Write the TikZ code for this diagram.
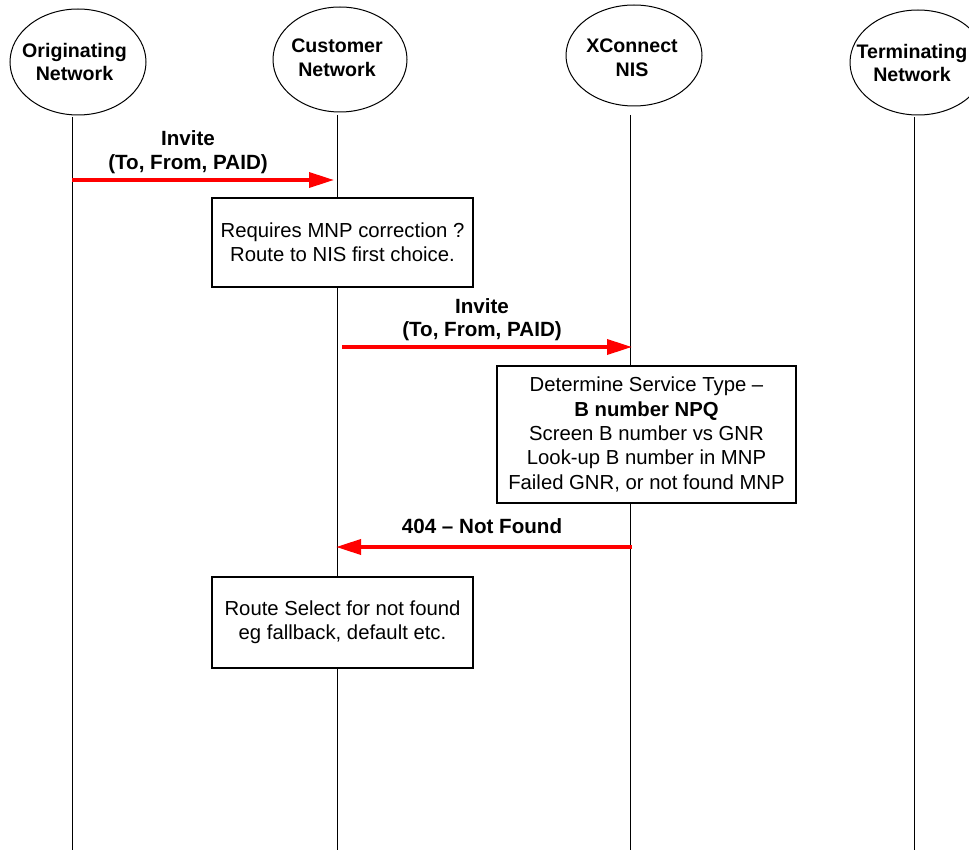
\documentclass[tikz,border=0pt]{standalone}
\usepackage{fontspec}
\setmainfont{Liberation Sans}
\usetikzlibrary{shapes.geometric,arrows.meta}
\begin{document}
\begin{tikzpicture}[x=1pt,y=-1pt,
  party/.style={draw=black,line width=1pt,ellipse,inner sep=0pt,fill=white,
    font=\fontsize{19.6}{23.5}\selectfont\bfseries,align=center},
  life/.style={draw=black,line width=1pt},
  msg/.style={draw=red,line width=3.5pt,-{Triangle[length=25pt,width=15pt]}},
  lbl/.style={font=\fontsize{20.6}{24}\selectfont\bfseries,align=center,inner sep=0pt},
  stepbox/.style={draw=black,line width=1.2pt,fill=white,inner sep=0pt,
    font=\fontsize{20.3}{24.3}\selectfont,align=center}]
\useasboundingbox (0,0) rectangle (969,850);
\fill[white] (0,0) rectangle (969,850);
% lifelines
\coordinate (ot) at (72,117);   \coordinate (ob) at (72,850);
\coordinate (ct) at (337,115);  \coordinate (cb) at (337,850);
\coordinate (xt) at (630,115);  \coordinate (xb) at (630,850);
\coordinate (tt) at (914,117);  \coordinate (tb) at (914,850);
\draw[life] (ot) -- (ob);
\draw[life] (ct) -- (cb);
\draw[life] (xt) -- (xb);
\draw[life] (tt) -- (tb);
% parties
\node[party,minimum width=136pt,minimum height=106pt] (orig) at (78,62) {};
\node[party,minimum width=134pt,minimum height=105pt] (cust) at (340,59.5) {};
\node[party,minimum width=136pt,minimum height=101pt] (xcon) at (634,55.5) {};
\node[party,minimum width=136pt,minimum height=105pt] (term) at (918,62.5) {};
\node[party,draw=none,fill=none] (origt) at (74.5,62) {Originating\\Network};
\node[party,draw=none,fill=none] (custt) at (337,58) {Customer\\Network};
\node[party,draw=none,fill=none] (xcont) at (632,58) {XConnect\\NIS};
\node[party,draw=none,fill=none] (termt) at (912,63) {Terminating\\Network};
% boxes
\node[stepbox,minimum width=261pt,minimum height=89pt] (b1) at (342.5,242.5)
  {Requires MNP correction ?\\Route to NIS first choice.};
\node[stepbox,minimum width=299pt,minimum height=137pt] (b2) at (646.5,434.5)
  {Determine Service Type --\\\textbf{B number NPQ}\\Screen B number vs GNR\\Look-up B number in MNP\\Failed GNR, or not found MNP};
\node[stepbox,minimum width=261pt,minimum height=91pt] (b3) at (342.5,622.5)
  {Route Select for not found\\ eg fallback, default etc.};
% messages
\coordinate (m1s) at (72,180);  \coordinate (m1e) at (334,180);
\coordinate (m2s) at (342,347); \coordinate (m2e) at (632,347);
\coordinate (m3s) at (632,547); \coordinate (m3e) at (336,547);
\draw[msg] (m1s) -- (m1e);
\draw[msg] (m2s) -- (m2e);
\draw[msg] (m3s) -- (m3e);
\node[lbl,anchor=base] (l1) at (188,146) {Invite};
\node[lbl,anchor=base] (l1b) at (188,170) {(To, From, PAID)};
\node[lbl,anchor=base] (l2) at (482,313) {Invite};
\node[lbl,anchor=base] (l2b) at (482,337) {(To, From, PAID)};
\node[lbl,anchor=base] (l3) at (482,533) {404 -- Not Found};
\end{tikzpicture}
\end{document}
